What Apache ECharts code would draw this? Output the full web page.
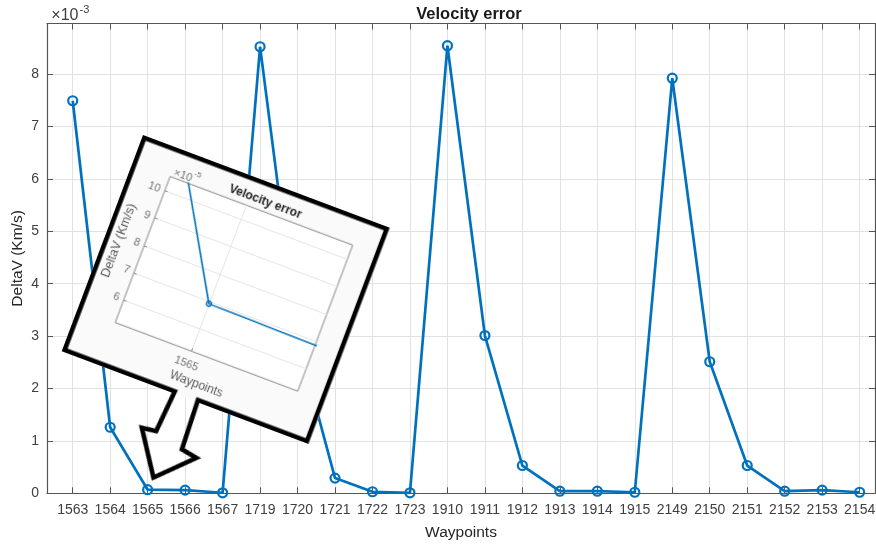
<!DOCTYPE html>
<html>
<head>
<meta charset="utf-8">
<script src="https://cdn.jsdelivr.net/npm/echarts@6/dist/echarts.min.js"></script>
<style>
  html, body { margin: 0; padding: 0; background: #fff; }
  #main { position: absolute; left: 0; top: 0; width: 876px; height: 549px; }
  #callout {
    position: absolute; left: 143px; top: 134.5px;
    width: 280px; height: 340px;
    transform-origin: 0 0; transform: rotate(20.6deg);
  }
  #calloutFill {
    position: absolute; left: 0; top: 0; width: 263.5px; height: 231px;
    background: #fafafa;
  }
  #zoomChart { position: absolute; left: 0; top: 0; width: 280px; height: 340px; }
</style>
</head>
<body>
<div id="main"></div>
<div id="callout">
  <div id="calloutFill"></div>
  <div id="zoomChart"></div>
</div>
<script>
// Waypoint ids along the x axis
const waypoints = ['1563', '1564', '1565', '1566', '1567', '1719', '1720', '1721', '1722', '1723',
  '1910', '1911', '1912', '1913', '1914', '1915', '2149', '2150', '2151', '2152', '2153', '2154'];

// Velocity error at each waypoint, Km/s
const deltaV = [0.00749, 0.00126, 0.000069, 0.000060, 0.000010, 0.00852, 0.00295, 0.00029, 0.00003, 0.00001,
  0.00854, 0.00301, 0.00053, 0.00004, 0.00004, 0.00002, 0.00792, 0.00251, 0.00053, 0.00004, 0.00006, 0.00002];

// Y tick values of the main plot (units of 1e-3 Km/s)
const yTicksMain = [0, 1, 2, 3, 4, 5, 6, 7, 8];
// Y tick values of the zoomed view (units of 1e-5 Km/s)
const yTicksZoom = [6, 7, 8, 9, 10];
// Waypoint shown in the zoomed view
const zoomIndex = 2;

const idx = waypoints.map((_, i) => i);
const points = deltaV.map((v, i) => [i, v]);

const BLUE = '#0072BD';
const AXIS = '#555555';
const TEXT = '#404040';
const GRID = '#e2e2e2';

// ---------- main plot ----------
const main = echarts.init(document.getElementById('main'));
const xCommon = {
  type: 'value', min: -0.686, max: 21.41,
  axisLine: { show: true, onZero: false, lineStyle: { color: AXIS, width: 1.2 } },
  axisTick: { show: true, inside: true, length: 6, customValues: idx, lineStyle: { color: AXIS } },
};
const yVals = yTicksMain.map(t => t * 1e-3);
const yCommon = {
  type: 'value', min: 0, max: 0.008964,
  axisLine: { show: true, onZero: false, lineStyle: { color: AXIS, width: 1.2 } },
  axisTick: { show: true, inside: true, length: 6, customValues: yVals, lineStyle: { color: AXIS } },
};
main.setOption({
  animation: false,
  backgroundColor: '#fff',
  title: {
    text: 'Velocity error', left: 464, top: 1, textAlign: 'center',
    textStyle: { fontFamily: 'Liberation Sans, Arial', fontSize: 16.5, fontWeight: 'bold', color: '#1a1a1a' }
  },
  grid: { left: 47, right: 1, top: 23.5, bottom: 55.7, containLabel: false, outerBoundsMode: 'none' },
  xAxis: [
    Object.assign({}, xCommon, {
      position: 'bottom',
      name: 'Waypoints', nameLocation: 'middle', nameGap: 31, nameMoveOverlap: false,
      nameTextStyle: { fontFamily: 'Liberation Sans, Arial', fontSize: 15.5, color: '#262626' },
      axisLabel: {
        show: true, customValues: idx, margin: 10,
        formatter: v => waypoints[Math.round(v)],
        fontFamily: 'Liberation Sans, Arial', fontSize: 14, color: TEXT
      },
      splitLine: { show: true, lineStyle: { color: GRID, width: 1 } }
    }),
    Object.assign({}, xCommon, {
      position: 'top',
      axisLabel: { show: false },
      splitLine: { show: false }
    })
  ],
  yAxis: [
    Object.assign({}, yCommon, {
      position: 'left',
      name: 'DeltaV (Km/s)', nameLocation: 'middle', nameRotate: 90, nameGap: 21, nameMoveOverlap: false,
      nameTextStyle: { fontFamily: 'Liberation Sans, Arial', fontSize: 15.5, color: '#262626' },
      axisLabel: {
        show: true, margin: 8, customValues: yVals,
        formatter: v => String(Math.round(v * 1000)),
        fontFamily: 'Liberation Sans, Arial', fontSize: 14, color: TEXT
      },
      splitLine: { show: true, lineStyle: { color: GRID, width: 1 } }
    }),
    Object.assign({}, yCommon, {
      position: 'right',
      axisLabel: { show: false },
      splitLine: { show: false }
    })
  ],
  graphic: [
    {
      type: 'text', x: 78.5, y: 16,
      style: { text: '×10', align: 'right', verticalAlign: 'middle',
        font: '16px "Liberation Sans", Arial', fill: TEXT }
    },
    {
      type: 'text', x: 79.5, y: 9.5,
      style: { text: '-3', align: 'left', verticalAlign: 'middle',
        font: '11px "Liberation Sans", Arial', fill: TEXT }
    }
  ],
  series: [{
    type: 'line',
    data: points,
    xAxisIndex: 0, yAxisIndex: 0,
    showSymbol: true, symbol: 'circle', symbolSize: 9,
    lineStyle: { color: BLUE, width: 2.7 },
    itemStyle: { color: 'rgba(0,0,0,0)', borderColor: BLUE, borderWidth: 2.2 },
    z: 5
  }]
});

// ---------- zoomed callout ----------
const zoomChart = echarts.init(document.getElementById('zoomChart'));
const ZTEXT = '#707070';
const zVals = yTicksZoom.map(t => t * 1e-5);
zoomChart.setOption({
  animation: false,
  grid: {
    left: 40, top: 29.3, width: 195, height: 156,
    show: true, backgroundColor: '#ffffff', borderColor: '#8a8a8a', borderWidth: 1,
    containLabel: false, outerBoundsMode: 'none'
  },
  xAxis: {
    type: 'value', min: zoomIndex - 0.0402, max: zoomIndex + 0.0565,
    axisLine: { show: false, onZero: false },
    axisTick: { show: true, inside: true, length: 3, customValues: [zoomIndex], lineStyle: { color: '#8a8a8a' } },
    axisLabel: {
      show: true, customValues: [zoomIndex], margin: 8,
      formatter: v => waypoints[Math.round(v)],
      fontFamily: 'Liberation Sans, Arial', fontSize: 11, color: ZTEXT
    },
    splitLine: { show: true, lineStyle: { color: '#e6e6e6', width: 1 } },
    name: 'Waypoints', nameLocation: 'middle', nameGap: 23, nameMoveOverlap: false,
    nameTextStyle: { fontFamily: 'Liberation Sans, Arial', fontSize: 12, color: '#5a5a5a' }
  },
  yAxis: {
    type: 'value', min: 5.16e-5, max: 10.53e-5,
    axisLine: { show: false, onZero: false },
    axisTick: { show: true, inside: true, length: 3, customValues: zVals, lineStyle: { color: '#8a8a8a' } },
    axisLabel: {
      show: true, customValues: zVals, margin: 5,
      formatter: v => String(Math.round(v * 1e5)),
      fontFamily: 'Liberation Sans, Arial', fontSize: 11, color: ZTEXT
    },
    splitLine: { show: true, lineStyle: { color: '#e6e6e6', width: 1 } },
    name: 'DeltaV (Km/s)', nameLocation: 'middle', nameRotate: 90, nameGap: 19, nameMoveOverlap: false,
    nameTextStyle: { fontFamily: 'Liberation Sans, Arial', fontSize: 12.5, color: '#5a5a5a' }
  },
  graphic: [
    {
      type: 'text', x: 138, y: 20,
      style: { text: 'Velocity error', align: 'center', verticalAlign: 'middle',
        font: 'bold 12px "Liberation Sans", Arial', fill: '#1f1f1f' }
    },
    {
      type: 'text', x: 61, y: 23.5,
      style: { text: '×10', align: 'right', verticalAlign: 'middle',
        font: '11px "Liberation Sans", Arial', fill: ZTEXT }
    },
    {
      type: 'text', x: 61.8, y: 17.5,
      style: { text: '-5', align: 'left', verticalAlign: 'middle',
        font: '8px "Liberation Sans", Arial', fill: ZTEXT }
    },
    {
      // callout frame with its pointer
      type: 'polygon', z: 100,
      shape: {
        points: [
          [2.3, 2.3], [261.2, 2.3], [261.2, 228.7],
          [144.7, 228.7], [147, 280.5], [163.5, 283.5], [130.3, 317],
          [102, 274.5], [116.5, 272.5], [120, 228.7],
          [2.3, 228.7]
        ]
      },
      style: { fill: null, stroke: '#000', lineWidth: 4.6, lineJoin: 'miter' }
    }
  ],
  series: [{
    type: 'line',
    data: points,
    clip: true,
    showSymbol: true, symbol: 'circle', symbolSize: 5,
    lineStyle: { color: BLUE, width: 1.6 },
    itemStyle: { color: 'rgba(0,0,0,0)', borderColor: BLUE, borderWidth: 1.3 }
  }]
});
</script>
</body>
</html>
